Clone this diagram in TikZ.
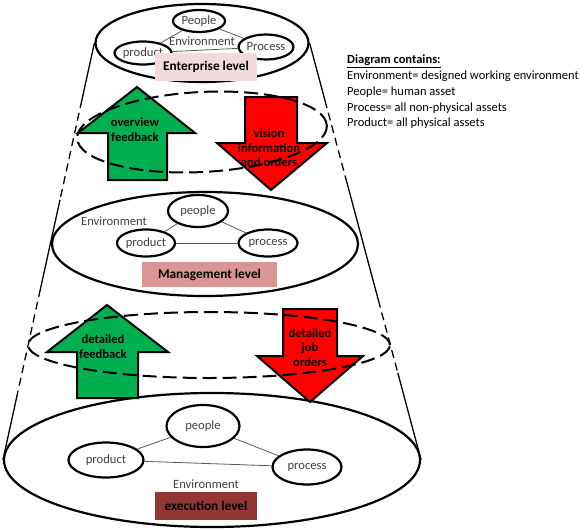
\documentclass[tikz,border=0pt]{standalone}
\usepackage{fontspec}
\setmainfont{Carlito}
\usetikzlibrary{shapes.geometric, calc}
\usepackage{xcolor}
\definecolor{FlowGreen}{HTML}{00B050}
\definecolor{FlowRed}{HTML}{FF0000}
\definecolor{EnterpriseRose}{HTML}{F2DCDB}
\definecolor{ManagementRose}{HTML}{D99694}
\definecolor{ExecutionRed}{HTML}{943634}
\definecolor{LabelGray}{HTML}{404040}
\definecolor{LinkGray}{HTML}{595959}
\tikzset{
  ring/.style={draw, ellipse, line width=2.2pt, inner sep=0pt},
  dashring/.style={draw, ellipse, line width=2pt, dash pattern=on 14pt off 6pt, inner sep=0pt},
  asset/.style={draw, ellipse, line width=2.2pt, fill=white, inner sep=0pt, text=LabelGray, font=\fontsize{12.6}{14}\selectfont},
  link/.style={LinkGray, line width=0.8pt},
  levelbox/.style={inner sep=0pt, font=\bfseries\fontsize{13.3}{15}\selectfont},
  envtext/.style={inner sep=0pt, text=LabelGray, font=\fontsize{12.6}{14}\selectfont},
  upflow/.style={draw, line width=2pt, fill=FlowGreen},
  downflow/.style={draw, line width=2pt, fill=FlowRed},
  flowtext/.style={align=center, inner sep=0pt, font=\bfseries\fontsize{12.6}{14.5}\selectfont},
  coneline/.style={line width=1.3pt},
  conedash/.style={line width=1.3pt, dash pattern=on 8pt off 5pt}
}
\begin{document}
\begin{tikzpicture}[x=1pt, y=-1pt]
    \useasboundingbox (0,0) rectangle (580,530);

    % Level rings
    \node[ring, minimum width=213, minimum height=78] (entring) at (202,43) {};
    \node[ring, minimum width=306, minimum height=104] (mgmtring) at (205,244) {};
    \node[ring, minimum width=416, minimum height=134] (execring) at (212,460) {};

    % Cone sides
    \coordinate (l1) at ($(entring.west)!0.137!(execring.west)$);
    \coordinate (l2) at ($(entring.west)!0.376!(execring.west)$);
    \coordinate (l3) at ($(entring.west)!0.590!(execring.west)$);
    \coordinate (l4) at ($(entring.west)!0.839!(execring.west)$);
    \coordinate (r1) at ($(entring.east)!0.137!(execring.east)$);
    \coordinate (r2) at ($(entring.east)!0.321!(execring.east)$);
    \coordinate (r3) at ($(entring.east)!0.616!(execring.east)$);
    \coordinate (r4) at ($(entring.east)!0.791!(execring.east)$);
    \draw[coneline] (entring.west) -- (l1);
    \draw[conedash] (l1) -- (l2);
    \draw[coneline] (l2) -- (l3);
    \draw[conedash] (l3) -- (l4);
    \draw[coneline] (l4) -- (execring.west);
    \draw[coneline] (entring.east) -- (r1);
    \draw[conedash] (r1) -- (r2);
    \draw[coneline] (r2) -- (r3);
    \draw[conedash] (r3) -- (r4);
    \draw[coneline] (r4) -- (execring.east);

    % Enterprise level
    \node[envtext] (entenv) at (202,41) {Environment};
    \node[asset, minimum width=52, minimum height=22] (entpeople) at (199,21) {People};
    \node[asset, minimum width=53, minimum height=23] (entproduct) at (143,53) {product};
    \node[asset, minimum width=52, minimum height=25] (entprocess) at (266,47) {Process};
    \draw[link] (entpeople) -- (entproduct);
    \draw[link] (entpeople) -- (entprocess);
    \draw[link] (entproduct) -- (entprocess);
    \node[levelbox, fill=EnterpriseRose, minimum width=102, minimum height=28] (entlevel) at (206,67) {Enterprise level};

    % Management level
    \node[envtext] (mgmtenv) at (114,221) {Environment};
    \node[asset, minimum width=60, minimum height=32] (mgmtpeople) at (198,211) {people};
    \node[asset, minimum width=58, minimum height=27] (mgmtproduct) at (146,243) {product};
    \node[asset, minimum width=59, minimum height=27] (mgmtprocess) at (268,243) {process};
    \draw[link] (mgmtpeople) -- (mgmtproduct);
    \draw[link] (mgmtpeople) -- (mgmtprocess);
    \draw[link] (mgmtproduct) -- (mgmtprocess);
    \node[levelbox, fill=ManagementRose, minimum width=135, minimum height=25] (mgmtlevel) at (209.5,274.5) {Management level};

    % Execution level
    \node[envtext] (execenv) at (206,484) {Environment};
    \node[asset, minimum width=73, minimum height=42] (execpeople) at (203,426) {people};
    \node[asset, minimum width=75, minimum height=35] (execproduct) at (106,460) {product};
    \node[asset, minimum width=69, minimum height=35] (execprocess) at (307,467) {process};
    \draw[link] (execpeople) -- (execproduct);
    \draw[link] (execpeople) -- (execprocess);
    \draw[link] (execproduct) -- (execprocess);
    \node[levelbox, fill=ExecutionRed, minimum width=102, minimum height=28] (execlevel) at (206,506) {execution level};

    % Flows between enterprise and management
    \draw[upflow] (108,180) -- (108,133) -- (78,133) -- (137,87) -- (195,133) -- (167,133) -- (167,180) -- cycle;
    \node[flowtext] (overview) at (135,129.5) {overview\\feedback};
    \draw[downflow] (245,97) -- (297,97) -- (297,143) -- (327,143) -- (271,190) -- (217,143) -- (245,143) -- cycle;
    \node[flowtext] (vision) at (269,148) {vision\\information\\and orders};

    % Flows between management and execution
    \draw[upflow] (77,398) -- (77,352) -- (47,352) -- (107,305) -- (168,352) -- (138,352) -- (138,398) -- cycle;
    \node[flowtext] (detfeedback) at (103,346.5) {detailed\\feedback};
    \draw[downflow] (283,309) -- (337,309) -- (337,356) -- (363,356) -- (310,402) -- (257,356) -- (283,356) -- cycle;
    \node[flowtext] (joborders) at (310,347.5) {detailed\\job\\orders};

    % Interfaces
    \node[dashring, rotate=3, minimum width=250, minimum height=80] (upperface) at (202,132) {};
    \node[dashring, minimum width=362, minimum height=66] (lowerface) at (209,345) {};

    % Legend
    \node[anchor=west, align=left, inner sep=0pt, font=\fontsize{12.5}{15.7}\selectfont] (legend) at (347,92)
        {\underline{\textbf{Diagram contains:}}\\
         Environment= designed working environment\\
         People= human asset\\
         Process= all non-physical assets\\
         Product= all physical assets};
\end{tikzpicture}
\end{document}
